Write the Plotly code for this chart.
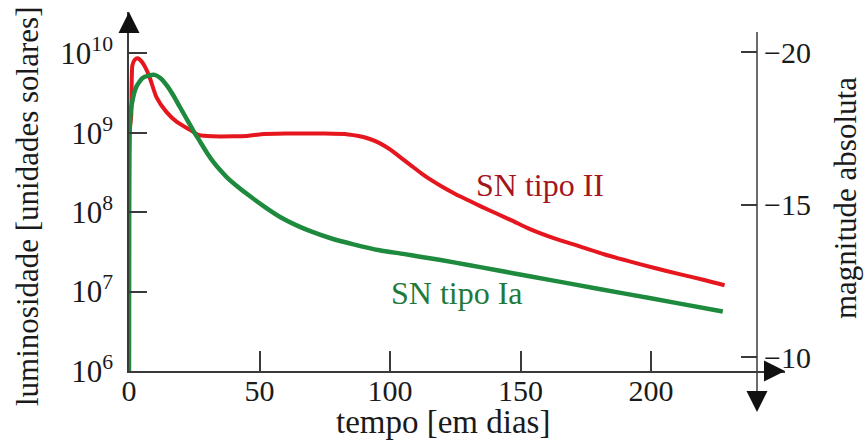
import plotly.graph_objects as go

# ---- data ----
red_t = [0.3, 0.85, 1.3, 2.2, 3.3, 4.8, 6.3, 7.9, 10.5, 14.4, 18.2, 23.2, 27, 32, 40, 45,
         50, 60, 75, 84, 88, 92, 96, 100, 104, 108, 112, 116, 120, 125, 130, 135,
         141, 147, 153.4, 163, 172.6, 182, 191.8, 201, 210.9, 220, 228.2]
red_log = [9.05, 9.22, 9.85, 9.92, 9.94, 9.90, 9.82, 9.70, 9.45, 9.26, 9.14, 9.04, 8.97, 8.955,
           8.955, 8.96, 8.98, 8.99, 8.99, 8.98, 8.96, 8.925, 8.87, 8.79, 8.69, 8.59, 8.49, 8.40,
           8.32, 8.23, 8.15, 8.07, 7.98, 7.89, 7.79, 7.67, 7.57, 7.47, 7.38, 7.30, 7.22,
           7.15, 7.08]

green_t = [0, 0.05, 0.15, 0.4, 1.0, 2.8, 5.2, 7.5, 9.8, 12, 14.4, 17, 19.5, 22, 24.5, 27.2,
           29.9, 32.6, 34.9, 37.5, 40.6, 46.4, 52.1, 57.9, 65.5, 70, 77, 86, 96, 105, 111.5,
           120, 130, 140, 154, 169, 190, 210, 227.5]
green_log = [6.0, 7.6, 8.7, 9.15, 9.35, 9.58, 9.69, 9.72, 9.73, 9.69, 9.60, 9.47, 9.325, 9.18,
             9.035, 8.89, 8.746, 8.62, 8.53, 8.44, 8.35, 8.20, 8.065, 7.94, 7.815, 7.755, 7.675,
             7.595, 7.52, 7.475, 7.44, 7.395, 7.335, 7.275, 7.19, 7.10, 6.975, 6.855, 6.75]

x_ticks = [0, 50, 100, 150, 200]
lum_ticks = [1e6, 1e7, 1e8, 1e9, 1e10]
lum_labels = ["10<sup>6</sup>", "10<sup>7</sup>", "10<sup>8</sup>", "10<sup>9</sup>", "10<sup>10</sup>"]
mag_ticks = [-20, -15, -10]
mag_labels = ["\u221220", "\u221215", "\u221210"]

FONT = "Liberation Serif, DejaVu Serif, serif"
AX = "#3a3a3a"
TXT = "#1a1a1a"
RED = "#e5161e"
GREEN = "#1e8a3e"

fig = go.Figure()
fig.add_trace(go.Scatter(x=red_t, y=[10 ** v for v in red_log], mode="lines",
                         line=dict(color=RED, width=4, shape="spline", smoothing=0.6),
                         showlegend=False))
fig.add_trace(go.Scatter(x=green_t, y=[10 ** v for v in green_log], mode="lines",
                         line=dict(color=GREEN, width=4.5, shape="spline", smoothing=0.6),
                         showlegend=False))
# invisible trace to activate the magnitude axis
fig.add_trace(go.Scatter(x=[None], y=[None], yaxis="y2", showlegend=False))

W, H = 867, 442
L, R, T, B = 129, 82, 12, 71
pw = W - L - R
ph = H - T - B

fig.update_layout(
    width=W, height=H,
    margin=dict(l=L, r=R, t=T, b=B),
    paper_bgcolor="white", plot_bgcolor="white",
    font=dict(family=FONT, color=TXT),
    xaxis=dict(range=[0, pw / 2.61], showgrid=False, zeroline=False,
               showline=True, linecolor=AX, linewidth=1.5,
               tickvals=x_ticks, ticks="inside", ticklen=20, tickwidth=1.5, tickcolor=AX,
               tickfont=dict(family=FONT, size=30, color=TXT), ticklabelstandoff=-8),
    yaxis=dict(type="log", range=[6, 6 + ph / 79.4], showgrid=False, zeroline=False,
               showline=True, linecolor=AX, linewidth=1.5,
               tickvals=lum_ticks, ticktext=lum_labels, ticks="inside", ticklen=18,
               tickwidth=1.5, tickcolor=AX, ticklabelstandoff=8,
               tickfont=dict(family=FONT, size=31, color=TXT)),
    yaxis2=dict(overlaying="y", anchor="free", position=(757 - L) / pw, side="right",
                range=[-20 + (H - B - 52) * 10 / 305, -20 - (52 - T) * 10 / 305],
                showgrid=False, zeroline=False, showline=False,
                tickvals=mag_ticks, ticktext=mag_labels, ticks="inside", ticklen=16,
                tickwidth=1.5, tickcolor=AX, ticklabelstandoff=6,
                tickfont=dict(family=FONT, size=30, color=TXT)),
)

xr = (757 - L) / pw
# right (magnitude) axis line, extending below the time axis
fig.add_shape(type="line", xref="paper", yref="paper",
              x0=xr, x1=xr, y0=(H - B - 32) / ph, y1=(H - B - 400) / ph,
              line=dict(color=AX, width=1.5))

arrow = dict(showarrow=True, arrowhead=2, arrowsize=2.8, arrowwidth=1.5, arrowcolor="#111",
             text="", xref="paper", yref="paper")
fig.add_annotation(x=0, y=1, ax=0, ay=22, **arrow)
fig.add_annotation(x=1, y=0, ax=-22, ay=0, **arrow)
fig.add_annotation(x=xr, y=(H - B - 412) / ph, ax=0, ay=-22, **arrow)

# titles
fig.add_annotation(text="luminosidade [unidades solares]", xref="paper", yref="paper",
                   x=(27 - L) / pw, y=(H - B - 207) / ph, textangle=-90, showarrow=False,
                   xanchor="center", yanchor="middle", font=dict(family=FONT, size=31, color=TXT))
fig.add_annotation(text="magnitude absoluta", xref="paper", yref="paper",
                   x=(846 - L) / pw, y=(H - B - 198) / ph, textangle=-90, showarrow=False,
                   xanchor="center", yanchor="middle", font=dict(family=FONT, size=31, color=TXT))
fig.add_annotation(text="tempo [em dias]", xref="paper", yref="paper",
                   x=(443 - L) / pw, y=(H - B - 442) / ph, showarrow=False,
                   xanchor="center", yanchor="bottom", font=dict(family=FONT, size=33, color=TXT))

# curve labels
fig.add_annotation(text="SN tipo II", xref="paper", yref="paper",
                   x=(540 - L) / pw, y=(H - B - 185) / ph, showarrow=False,
                   xanchor="center", yanchor="middle", font=dict(family=FONT, size=32, color="#a3161c"))
fig.add_annotation(text="SN tipo Ia", xref="paper", yref="paper",
                   x=(457 - L) / pw, y=(H - B - 293) / ph, showarrow=False,
                   xanchor="center", yanchor="middle", font=dict(family=FONT, size=32, color="#1e7a3a"))

fig.write_html("out.html")
